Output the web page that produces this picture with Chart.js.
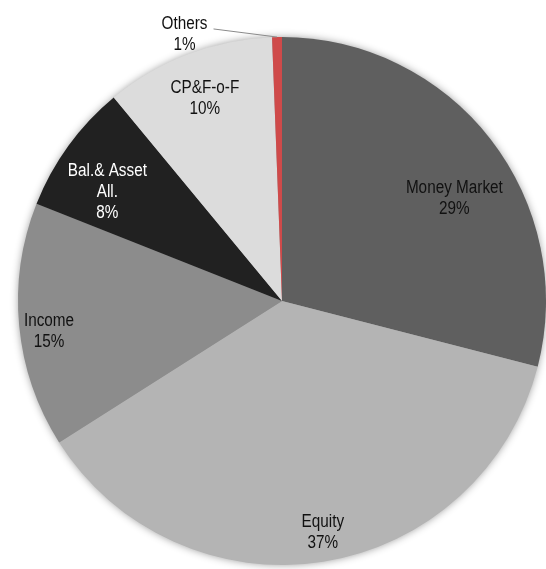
<!DOCTYPE html>
<html>
<head>
<meta charset="utf-8">
<script src="https://cdn.jsdelivr.net/npm/chart.js@4.4.1/dist/chart.umd.min.js"></script>
<style>
  html, body { margin: 0; padding: 0; background: #fff; }
  #wrap { width: 546px; height: 569px; }
</style>
</head>
<body>
<div id="wrap"><canvas id="fundChart" width="546" height="569"></canvas></div>
<script>
// Data
const categories = ['Money Market', 'Equity', 'Income', 'Bal.& Asset All.', 'CP&F-o-F', 'Others'];
const labelLines = [['Money Market'], ['Equity'], ['Income'], ['Bal.& Asset', 'All.'], ['CP&F-o-F'], ['Others']];
const shares = [29, 37, 15, 8, 10.4, 0.6];
const sliceColors = ['#5f5f5f', '#b4b4b4', '#8c8c8c', '#212121', '#dcdcdc', '#cf4a4a'];
const textColors = ['#111', '#111', '#111', '#fff', '#111', '#111'];

// label placement: fraction of radius and angle nudge (deg)
const labelRadius = [0.76, 0.89, 0.89, 0.78, 0.82, 1.075];
const labelNudge = [7, -1, -2, -4, 0, -19];

const FONT_PX = 18;
const SQUEEZE = 0.85;

// soft shadow round the pie
const pieShadow = {
  id: 'pieShadow',
  beforeDatasetsDraw(chart) {
    const arc = chart.getDatasetMeta(0).data[0];
    if (!arc) return;
    const ctx = chart.ctx;
    ctx.save();
    ctx.shadowColor = 'rgba(0,0,0,0.45)';
    ctx.shadowBlur = 9;
    ctx.fillStyle = '#999';
    ctx.beginPath();
    ctx.arc(arc.x, arc.y, arc.outerRadius - 1, 0, Math.PI * 2);
    ctx.fill();
    ctx.restore();
  }
};

// labels drawn inside / next to the slices
const sliceLabels = {
  id: 'sliceLabels',
  afterDatasetsDraw(chart) {
    const ctx = chart.ctx;
    const arcs = chart.getDatasetMeta(0).data;
    ctx.save();
    ctx.font = FONT_PX + 'px "Liberation Sans", Arial, sans-serif';
    ctx.textAlign = 'center';
    ctx.textBaseline = 'middle';
    arcs.forEach((arc, i) => {
      const mid = (arc.startAngle + arc.endAngle) / 2 + labelNudge[i] * Math.PI / 180;
      const r = arc.outerRadius * labelRadius[i];
      const x = arc.x + Math.cos(mid) * r;
      const y = arc.y + Math.sin(mid) * r;
      const lines = labelLines[i].concat([Math.round(shares[i]) + '%']);
      const lh = 21;
      const top = y - (lines.length - 1) * lh / 2;
      ctx.fillStyle = textColors[i];
      lines.forEach((t, k) => {
        ctx.save();
        ctx.translate(x, top + k * lh);
        ctx.scale(SQUEEZE, 1);
        ctx.fillText(t, 0, 0);
        ctx.restore();
      });
      // leader line for the outside label
      if (labelRadius[i] > 1) {
        const w = ctx.measureText(labelLines[i][0]).width * SQUEEZE;
        const edgeA = (arc.startAngle + arc.endAngle) / 2;
        ctx.strokeStyle = '#8a8a8a';
        ctx.lineWidth = 1;
        ctx.beginPath();
        ctx.moveTo(x + w / 2 + 6, top + 5);
        ctx.lineTo(arc.x + Math.cos(edgeA) * arc.outerRadius, arc.y + Math.sin(edgeA) * arc.outerRadius);
        ctx.stroke();
      }
    });
    ctx.restore();
  }
};

new Chart(document.getElementById('fundChart').getContext('2d'), {
  type: 'pie',
  data: {
    labels: categories,
    datasets: [{
      data: shares,
      backgroundColor: sliceColors,
      borderWidth: 0
    }]
  },
  options: {
    responsive: false,
    animation: false,
    layout: { padding: { left: 18, right: 0, top: 37, bottom: 4 } },
    plugins: {
      legend: { display: false },
      tooltip: { enabled: false }
    }
  },
  plugins: [pieShadow, sliceLabels]
});
</script>
</body>
</html>
